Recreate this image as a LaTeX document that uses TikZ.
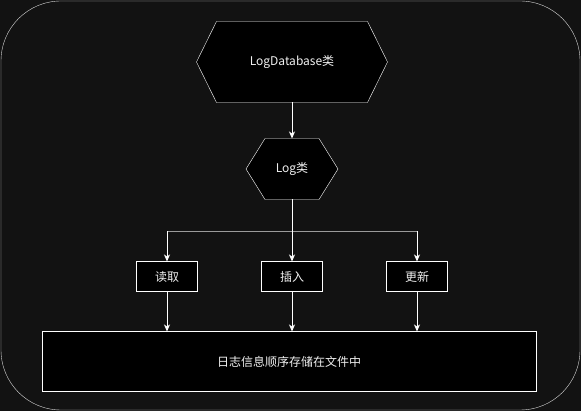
\documentclass[tikz,border=0pt]{standalone}
\usepackage{fontspec}
\setmainfont{Noto Sans CJK SC}
\usetikzlibrary{arrows.meta, backgrounds}
\definecolor{bgdark}{HTML}{121212}
\definecolor{txtgray}{HTML}{F0F0F0}
\definecolor{framegray}{HTML}{D8D8D8}
\definecolor{busgray}{HTML}{9A9A9A}
% hexagon behind a node: #1 = node, #2 = slant
\newcommand{\hexout}[2]{%
  \filldraw[draw=white, fill=black] (#1.west) -- ([xshift=#2]#1.north west) -- ([xshift=-#2]#1.north east)
    -- (#1.east) -- ([xshift=-#2]#1.south east) -- ([xshift=#2]#1.south west) -- cycle;}
\begin{document}
\begin{tikzpicture}[x=1pt, y=1pt, line width=1pt, node distance={107pt},
    >={Stealth[length=7pt, width=6pt, inset=2pt]},
    font=\fontsize{12}{14}\selectfont, text=txtgray,
    main/.style = {draw=white, fill=black, rectangle, inner sep=0pt},
    hexa/.style = {rectangle, inner sep=0pt}]
    \useasboundingbox (0,0) rectangle (581,411);
    \node[hexa, minimum width=190pt, minimum height=80pt] (1) at (292,349) {LogDatabase类};
    \node[hexa, minimum width=91pt, minimum height=60pt] (2) [below of=1] {Log类};
    \node[main, minimum width=61pt, minimum height=30pt] (4) [below of=2, node distance=108pt] {插入};
    \node[main, minimum width=61pt, minimum height=30pt] (3) [left of=4, node distance=125pt] {读取};
    \node[main, minimum width=61pt, minimum height=30pt] (5) [right of=4, node distance=125pt] {更新};
    \node[main, minimum width=494pt, minimum height=60pt] (6) [below of=4, node distance=85pt, xshift=-3pt] {日志信息顺序存储在文件中};
    \begin{scope}[on background layer]
      \fill[bgdark] (0,0) rectangle (581,411);
      \draw[framegray, rounded corners=60pt] (1,1) rectangle (580,410);
      \hexout{1}{20pt}
      \hexout{2}{19pt}
    \end{scope}
    \coordinate (j) at ([yshift=-32pt]2.south);
    \draw[->, white] (1) -- (2);
    \draw[busgray] (3 |- j) -- (5 |- j);
    \draw[->, white] (2) -- (4);
    \draw[->, white] (3 |- j) -- (3);
    \draw[->, white] (5 |- j) -- (5);
    \draw[->, white] (3) -- (3 |- 6.north);
    \draw[->, white] (4) -- (4 |- 6.north);
    \draw[->, white] (5) -- (5 |- 6.north);
\end{tikzpicture}
\end{document}
